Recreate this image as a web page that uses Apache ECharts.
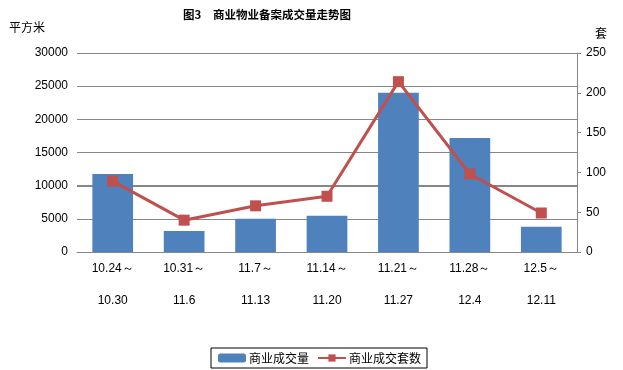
<!DOCTYPE html>
<html><head><meta charset="utf-8">
<script src="https://cdn.jsdelivr.net/npm/echarts@6/dist/echarts.min.js"></script>
<style>html,body{margin:0;padding:0;background:#fff}#c{width:623px;height:370px}</style>
</head><body><div id="c"></div>
<script>
const categories = ['10.24～\n10.30','10.31～\n11.6','11.7～\n11.13','11.14～\n11.20','11.21～\n11.27','11.28～\n12.4','12.5～\n12.11'];
const areaValues = [11760, 3170, 5000, 5450, 24000, 17200, 3800];
const unitValues = [89, 40, 58, 70, 214, 98, 49];
const leftTicks = {min: 0, max: 30000, interval: 5000};
const rightTicks = {min: 0, max: 250, interval: 50};

const chart = echarts.init(document.getElementById('c'), null, {renderer: 'canvas'});
const numFont = 'Liberation Sans, Arial, sans-serif';
const cjkFont = 'Noto Sans CJK SC, sans-serif';
chart.setOption({
  animation: false,
  backgroundColor: '#ffffff',
  title: {
    text: '图3　商业物业备案成交量走势图',
    left: 262, textAlign: 'center', top: 4,
    textStyle: {fontFamily: cjkFont, fontSize: 11.5, fontWeight: 'bold', color: '#000'}
  },
  grid: {left: 77, right: 46, top: 53, bottom: 118},
  legend: {
    left: 211, top: 348,
    data: ['商业成交量', '商业成交套数'],
    itemWidth: 28, itemHeight: 9, itemGap: 8,
    padding: [4, 6, 4, 7],
    borderColor: '#000', borderWidth: 1,
    textStyle: {fontFamily: cjkFont, fontSize: 12, color: '#000', padding: [0, 0, 0, -2]}
  },
  xAxis: {
    type: 'category', data: categories,
    axisLine: {show: true, lineStyle: {color: '#868686'}},
    axisTick: {show: false},
    axisLabel: {interval: 0, margin: 1, lineHeight: 32, fontFamily: numFont, fontSize: 12, color: '#000'}
  },
  yAxis: [{
    type: 'value', min: leftTicks.min, max: leftTicks.max, interval: leftTicks.interval,
    name: '平方米', nameLocation: 'end', nameGap: 20,
    nameTextStyle: {fontFamily: cjkFont, fontSize: 12, color: '#000', align: 'right', padding: [0, 32, 0, 0]},
    axisLine: {show: false}, axisTick: {show: false},
    axisLabel: {margin: 9, fontFamily: numFont, fontSize: 12, color: '#000', formatter: v => String(v)},
    splitLine: {show: true, lineStyle: {color: '#868686', width: 1}}
  }, {
    type: 'value', min: rightTicks.min, max: rightTicks.max, interval: rightTicks.interval,
    name: '套', nameLocation: 'end', nameGap: 14,
    nameTextStyle: {fontFamily: cjkFont, fontSize: 12, color: '#000', align: 'left', padding: [0, 0, 0, 18]},
    axisLine: {show: true, lineStyle: {color: '#868686'}},
    axisTick: {show: true, length: 4, lineStyle: {color: '#868686'}},
    axisLabel: {margin: 9, fontFamily: numFont, fontSize: 12, color: '#000', formatter: v => String(v)},
    splitLine: {show: false}
  }],
  series: [{
    name: '商业成交量', type: 'bar', yAxisIndex: 0, data: areaValues,
    barWidth: '57%',
    itemStyle: {color: '#4F81BD'},
    markLine: {silent: true, symbol: 'none', label: {show: false},
      lineStyle: {color: '#868686', width: 2, type: 'solid'}, data: [{yAxis: 10000}], z: 1}
  }, {
    name: '商业成交套数', type: 'line', yAxisIndex: 1, data: unitValues,
    symbol: 'rect', symbolSize: 11,
    lineStyle: {color: '#C0504D', width: 3},
    itemStyle: {color: '#C0504D'}
  }]
});
</script></body></html>
